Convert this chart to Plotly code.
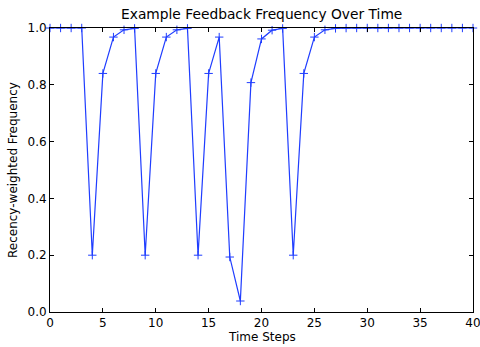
import plotly.graph_objects as go

time_steps = list(range(41))
frequency = [1.0, 1.0, 1.0, 1.0, 0.2, 0.84, 0.968, 0.9936, 0.9987,
             0.2, 0.84, 0.968, 0.9936, 0.9987,
             0.2, 0.84, 0.968, 0.1936, 0.0387, 0.8077, 0.9615, 0.9923, 0.9985,
             0.2, 0.84, 0.968, 0.9936, 0.9987,
             0.9997, 1.0, 1.0, 1.0, 1.0, 1.0, 1.0, 1.0, 1.0, 1.0, 1.0, 1.0, 1.0]

fig = go.Figure()
fig.add_trace(go.Scatter(
    x=time_steps, y=frequency, mode="lines+markers",
    line=dict(color="#1f3dff", width=1.2),
    marker=dict(symbol="cross-thin", size=6, line=dict(color="#1f3dff", width=1)),
    cliponaxis=False, showlegend=False))

font = "DejaVu Sans"
axis_common = dict(showgrid=False, zeroline=False, ticks="inside", ticklen=4,
                   tickcolor="black", tickwidth=1, showline=True, linecolor="black",
                   linewidth=1, mirror="allticks", automargin=False,
                   ticklabeloverflow="allow",
                   tickfont=dict(family=font, size=12, color="black"))
fig.update_layout(
    width=480, height=347,
    margin=dict(l=50, r=7, t=28, b=35),
    paper_bgcolor="white", plot_bgcolor="white",
    xaxis=dict(range=[0, 40], tickvals=[0, 5, 10, 15, 20, 25, 30, 35, 40], **axis_common),
    yaxis=dict(range=[0, 1], tickvals=[0, 0.2, 0.4, 0.6, 0.8, 1.0], tickformat=".1f",
               **axis_common),
    annotations=[
        dict(text="Example Feedback Frequency Over Time", xref="paper", yref="paper",
             x=0.5, y=1, yshift=14, xanchor="center", yanchor="middle", showarrow=False,
             font=dict(family=font, size=13.8, color="black")),
        dict(text="Time Steps", xref="paper", yref="paper", x=0.5, y=0, yshift=-25,
             xanchor="center", yanchor="middle", showarrow=False,
             font=dict(family=font, size=12, color="black")),
        dict(text="Recency-weighted Frequency", xref="paper", yref="paper", x=0, y=0.5,
             xshift=-37, xanchor="center", yanchor="middle", textangle=-90, showarrow=False,
             font=dict(family=font, size=12, color="black")),
    ],
)
fig.write_html("out.html", config={"displayModeBar": False},
               post_script="document.body.style.margin='0';")
